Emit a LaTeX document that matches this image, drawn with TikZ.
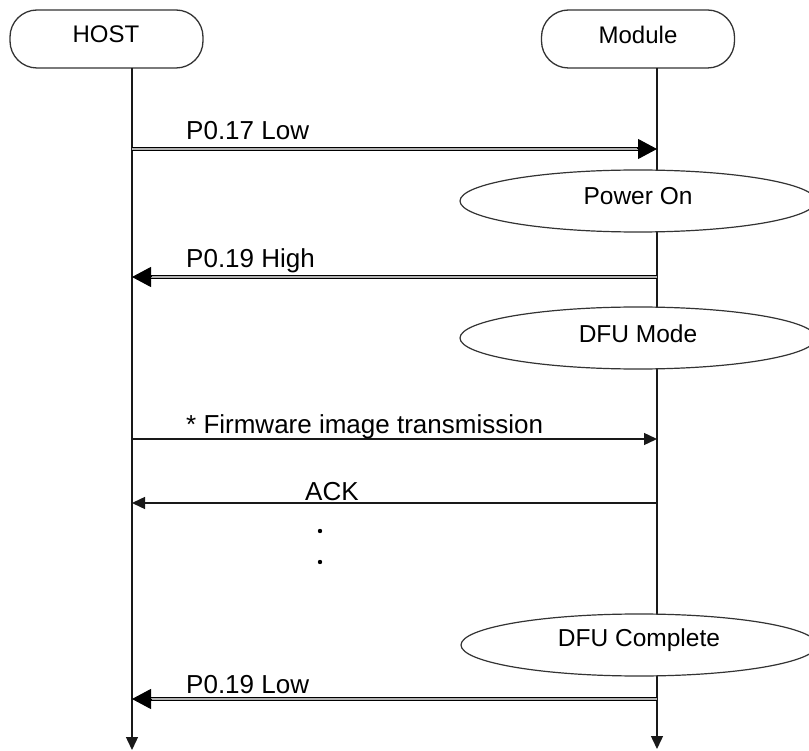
\documentclass[tikz,border=0pt]{standalone}
\usepackage{fontspec}
\setmainfont{Liberation Sans}
\usetikzlibrary{arrows.meta,shapes.geometric}
\begin{document}
\begin{tikzpicture}[x=1pt,y=-1pt,
  ln/.style={line width=1.4pt, draw=black!90},
  dbl/.style={line width=1.4pt, double=gray!60, double distance=2pt, draw=black},
  bigtip/.style={-{Triangle[length=19pt,width=20pt]}, line width=1pt, draw=black, fill=black},
  smalltip/.style={-{Triangle[length=13pt,width=12pt]}, ln},
  actor/.style={draw=black!80, line width=1.3pt, rounded corners=27pt, minimum width=193pt, minimum height=58pt, inner sep=0pt, fill=white},
  statebox/.style={ellipse, draw=black!80, line width=1.2pt, fill=white, minimum width=356pt, minimum height=62pt, inner sep=0pt},
  lbl/.style={font=\fontsize{26}{30}\selectfont, anchor=base west, inner sep=0pt, text=black},
  stxt/.style={font=\fontsize{24.5}{28}\selectfont, inner sep=0pt, text=black},
  atxt/.style={font=\fontsize{24}{28}\selectfont, inner sep=0pt, text=black},
  dotnode/.style={circle, fill=black, inner sep=0pt, minimum size=4.4pt},
]
\useasboundingbox (0,0) rectangle (809,751);
\fill[white] (0,0) rectangle (809,751);

% actors
\node[actor] (host) at (106.5,39) {};
\node[atxt] (hostT) at (106,34.5) {HOST};
\node[actor] (mod) at (638,39) {};
\node[atxt] (modT) at (638,34.5) {Module};

% lifelines
\coordinate (hTop) at (132,68);
\coordinate (hBot) at (132,750);
\coordinate (mTop) at (657,68);
\coordinate (mBot) at (657,749);
\draw[smalltip] (hTop) -- (hBot);
\draw[smalltip] (mTop) -- (mBot);

% states
\node[statebox] (pwr) at (638,201) {};
\node[stxt] (pwrT) at (638,196) {Power On};
\node[statebox] (dfu) at (638,338) {};
\node[stxt] (dfuT) at (638,333.5) {DFU Mode};
\node[statebox] (done) at (639,645) {};
\node[stxt] (doneT) at (639,640) {DFU Complete};

% message end points
\coordinate (h1) at (132,149); \coordinate (m1) at (657,149);
\coordinate (h2) at (132,277); \coordinate (m2) at (657,277);
\coordinate (h3) at (132,439); \coordinate (m3) at (657,439);
\coordinate (h4) at (132,503); \coordinate (m4) at (657,503);
\coordinate (h5) at (132,699); \coordinate (m5) at (657,699);

% messages
\draw[dbl, shorten >=18pt] (h1) -- (m1);
\draw[bigtip] ([xshift=-20pt]m1) -- (m1);
\draw[dbl, shorten >=18pt] (m2) -- (h2);
\draw[bigtip] ([xshift=20pt]h2) -- (h2);
\draw[smalltip] (h3) -- (m3);
\draw[smalltip] (m4) -- (h4);
\draw[dbl, shorten >=18pt] (m5) -- (h5);
\draw[bigtip] ([xshift=20pt]h5) -- (h5);

% labels
\node[lbl] (l1) at (186,140) {P0.17 Low};
\node[lbl] (l2) at (186,268) {P0.19 High};
\node[lbl] (l3) at (186,433) {* Firmware image transmission};
\node[lbl] (l4) at (305,500) {ACK};
\node[lbl] (l5) at (186,693) {P0.19 Low};

% dots
\node[dotnode] (d1) at (320,531) {};
\node[dotnode] (d2) at (320,562) {};
\end{tikzpicture}
\end{document}
